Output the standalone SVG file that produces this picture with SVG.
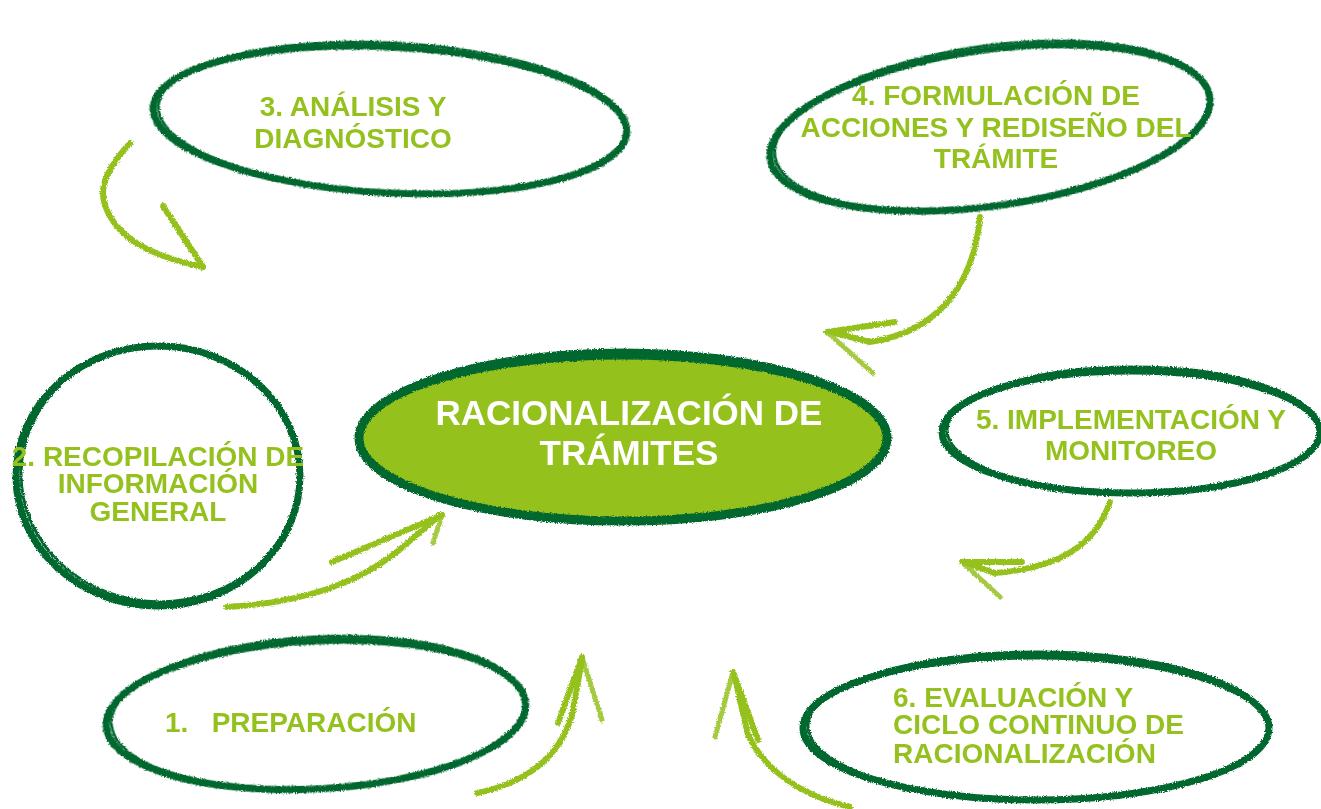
<svg xmlns="http://www.w3.org/2000/svg" width="1321" height="809" viewBox="0 0 1321 809">
<defs>
<filter id="rough" x="-5%" y="-5%" width="110%" height="110%">
<feTurbulence type="fractalNoise" baseFrequency="0.8" numOctaves="2" seed="3" result="n"/>
<feDisplacementMap in="SourceGraphic" in2="n" scale="3.5" xChannelSelector="R" yChannelSelector="G"/>
</filter>
<style>
.ring{fill:none;stroke:#04672f;stroke-width:7;}
.ring2{fill:none;stroke:#04672f;stroke-width:3;}
.arr{fill:none;stroke:#95c11f;stroke-width:6;stroke-linecap:round;stroke-linejoin:round;}
.barb{fill:none;stroke:#95c11f;stroke-width:5;stroke-linecap:round;opacity:0.85;}
.lbl{font-family:"Liberation Sans",Arial,sans-serif;font-weight:bold;font-size:28px;fill:#95c11f;}
.ctr{font-family:"Liberation Sans",Arial,sans-serif;font-weight:bold;font-size:35px;fill:#ffffff;text-anchor:middle;}
</style>
</defs>
<rect width="1321" height="809" fill="#ffffff"/>

<g id="connectors" filter="url(#rough)">
<path class="arr" d="M130,143 C110,165 98,185 105,205 C115,235 145,255 203,267"/>
<path class="arr" d="M163,206 L203,267"/>
<path class="arr" d="M980,217 C975,270 950,330 870,342 L835,333"/>
<path class="arr" d="M827,332 L895,322"/>
<path class="barb" d="M827,332 L873,373"/>
<path class="arr" d="M1110,502 C1095,545 1060,568 995,573 L968,564"/>
<path class="arr" d="M962,562 L1022,562"/>
<path class="barb" d="M962,562 L1000,597"/>
<path class="arr" d="M227,607 C300,603 360,585 405,545 L440,515"/>
<path class="arr" d="M442,515 L332,562"/>
<path class="barb" d="M442,515 L433,543"/>
<path class="arr" d="M477,793 C530,782 560,755 572,715 L582,660"/>
<path class="arr" d="M582,657 L558,723"/>
<path class="barb" d="M582,657 L602,720"/>
<path class="arr" d="M850,807 C800,795 765,770 748,735 L735,678"/>
<path class="arr" d="M733,672 L758,740"/>
<path class="barb" d="M733,672 L715,737"/>
</g>

<g id="node-center">
<ellipse cx="623" cy="438" rx="264" ry="83" fill="#95c11f" stroke="#04672f" stroke-width="9" filter="url(#rough)"/>
<ellipse cx="623" cy="436" rx="262" ry="86" class="ring2" filter="url(#rough)"/>
<text class="ctr" x="629" y="425">RACIONALIZACIÓN DE</text>
<text class="ctr" x="629" y="465">TRÁMITES</text>
</g>

<g id="node-1">
<ellipse cx="316" cy="715" rx="210" ry="74" transform="rotate(-3 316 715)" class="ring" filter="url(#rough)"/>
<ellipse cx="318" cy="713" rx="207" ry="76" transform="rotate(-3 316 715)" class="ring2" filter="url(#rough)"/>
<text class="lbl" x="165" y="732" xml:space="preserve">1.   PREPARACIÓN</text>
</g>

<g id="node-2">
<ellipse cx="158" cy="476" rx="142" ry="130" class="ring" filter="url(#rough)"/>
<ellipse cx="160" cy="474" rx="139" ry="128" class="ring2" filter="url(#rough)"/>
<text class="lbl" text-anchor="middle" x="158" y="466">2. RECOPILACIÓN DE</text>
<text class="lbl" text-anchor="middle" x="158" y="493">INFORMACIÓN</text>
<text class="lbl" text-anchor="middle" x="158" y="521">GENERAL</text>
</g>

<g id="node-3">
<ellipse cx="390" cy="120" rx="237" ry="73" transform="rotate(3 390 120)" class="ring" filter="url(#rough)"/>
<ellipse cx="392" cy="118" rx="234" ry="75" transform="rotate(3 390 120)" class="ring2" filter="url(#rough)"/>
<text class="lbl" text-anchor="middle" x="353" y="116">3. ANÁLISIS Y</text>
<text class="lbl" text-anchor="middle" x="353" y="148">DIAGNÓSTICO</text>
</g>

<g id="node-4">
<ellipse cx="990" cy="128" rx="222" ry="78" transform="rotate(-8 990 128)" class="ring" filter="url(#rough)"/>
<ellipse cx="992" cy="126" rx="219" ry="80" transform="rotate(-8 990 128)" class="ring2" filter="url(#rough)"/>
<text class="lbl" text-anchor="middle" x="996" y="105">4. FORMULACIÓN DE</text>
<text class="lbl" text-anchor="middle" x="996" y="137">ACCIONES Y REDISEÑO DEL</text>
<text class="lbl" text-anchor="middle" x="996" y="168">TRÁMITE</text>
</g>

<g id="node-5">
<ellipse cx="1131" cy="432" rx="189" ry="61" class="ring" filter="url(#rough)"/>
<ellipse cx="1133" cy="430" rx="186" ry="63" class="ring2" filter="url(#rough)"/>
<text class="lbl" text-anchor="middle" x="1131" y="429">5. IMPLEMENTACIÓN Y</text>
<text class="lbl" text-anchor="middle" x="1131" y="460">MONITOREO</text>
</g>

<g id="node-6">
<ellipse cx="1036" cy="728" rx="233" ry="72" class="ring" filter="url(#rough)"/>
<ellipse cx="1038" cy="726" rx="230" ry="74" class="ring2" filter="url(#rough)"/>
<text class="lbl" x="893" y="707">6. EVALUACIÓN Y</text>
<text class="lbl" x="893" y="734">CICLO CONTINUO DE</text>
<text class="lbl" x="893" y="763">RACIONALIZACIÓN</text>
</g>
</svg>
